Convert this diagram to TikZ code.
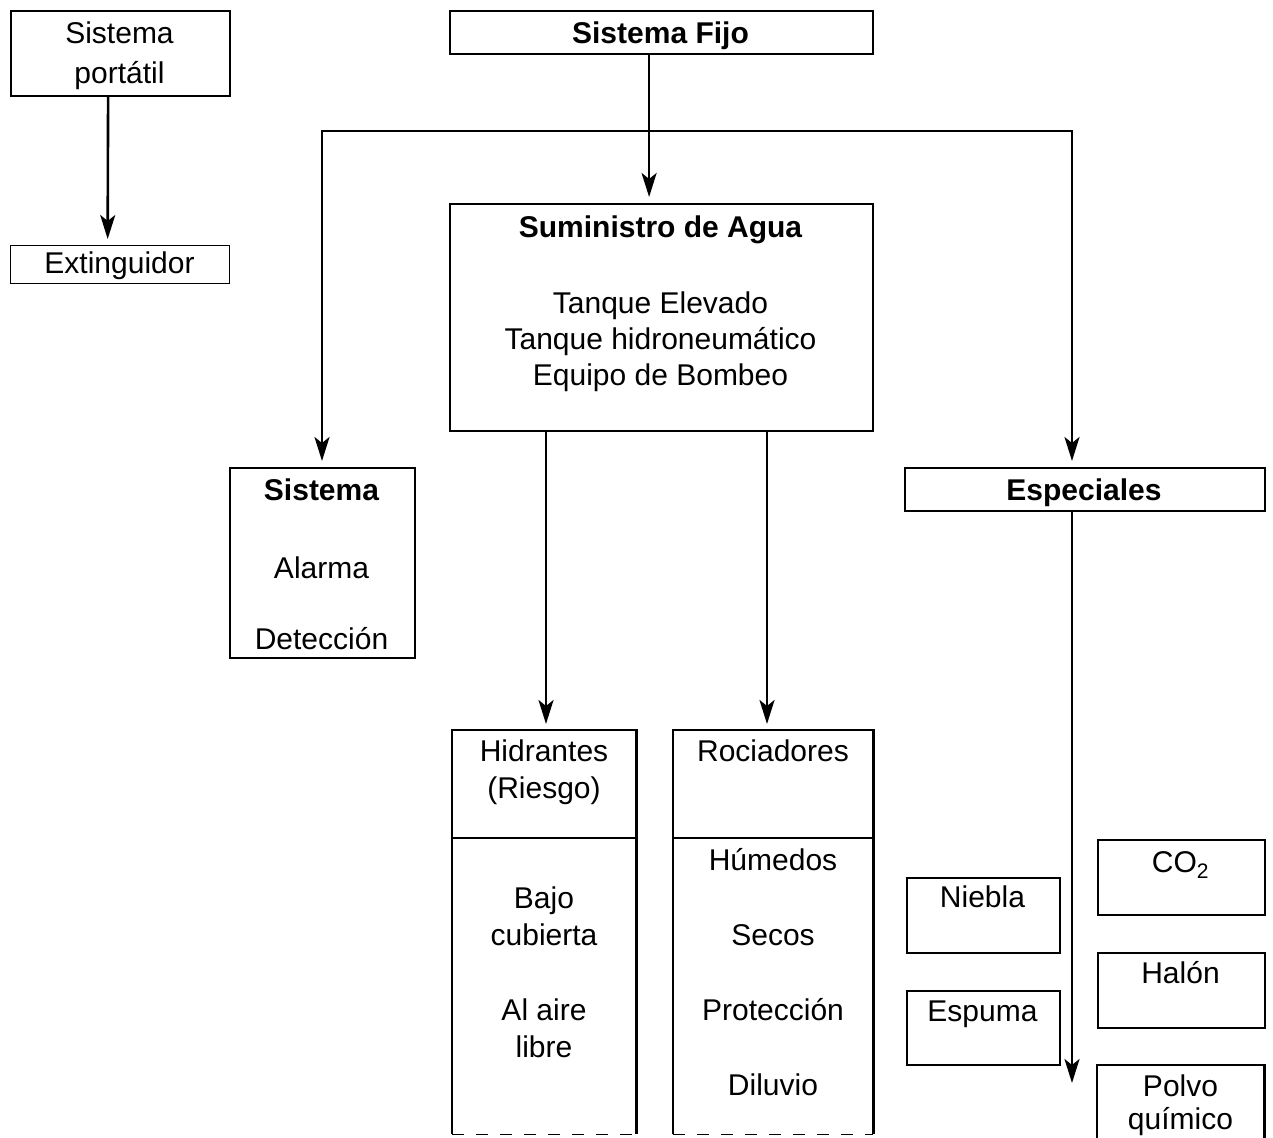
\documentclass[tikz,border=0pt]{standalone}
\usepackage{fontspec}
\setmainfont{Liberation Sans}
\usetikzlibrary{arrows.meta,calc}
\begin{document}
\begin{tikzpicture}[x=1pt,y=-1pt,
  bx/.style={draw, line width=2.2pt, inner sep=0, anchor=north west},
  thinbx/.style={draw, line width=1.3pt, inner sep=0, anchor=north west},
  openbx/.style={inner sep=0, anchor=north west},
  txt/.style={anchor=base, inner sep=0, font=\fontsize{30}{36}\selectfont},
  btxt/.style={anchor=base, inner sep=0, font=\fontsize{30}{36}\selectfont\bfseries},
  arr/.style={line width=2.6pt, -{Stealth[length=24pt,width=15pt,inset=6pt]}, shorten >=6pt},
  ln/.style={line width=2.6pt},
  side/.style={line width=2.2pt},
  divl/.style={line width=1.4pt},
  cut/.style={line width=1.8pt, dash pattern=on 12pt off 12pt}]
\useasboundingbox (0,0) rectangle (1273,1137);

% boxes
\node[bx, minimum width=219pt, minimum height=85pt] (port) at (10,10) {};
\node[thinbx, minimum width=219pt, minimum height=38pt] (ext) at (10,245) {};
\node[bx, minimum width=423pt, minimum height=43pt] (fijo) at (449,10) {};
\node[bx, minimum width=423pt, minimum height=227pt] (sum) at (449,203) {};
\node[bx, minimum width=185pt, minimum height=190pt] (sis) at (229,467) {};
\node[bx, minimum width=360pt, minimum height=43pt] (esp) at (904,467) {};
\node[openbx, minimum width=184pt, minimum height=404pt] (hid) at (452,730) {};
\node[openbx, minimum width=200pt, minimum height=404pt] (roc) at (673,730) {};
\node[bx, minimum width=153pt, minimum height=75pt] (nie) at (906,877) {};
\node[bx, minimum width=153pt, minimum height=74pt] (esq) at (906,990) {};
\node[bx, minimum width=167pt, minimum height=75pt] (co2) at (1097,839) {};
\node[bx, minimum width=167pt, minimum height=75pt] (hal) at (1097,952) {};
\node[openbx, minimum width=167pt, minimum height=80pt] (pol) at (1097,1065) {};

% open boxes
\draw[side] (hid.south west) -- (hid.north west) -- (hid.north east) -- (hid.south east);
\draw[cut] (hid.south west) -- (hid.south east);
\draw[side] (roc.south west) -- (roc.north west) -- (roc.north east) -- (roc.south east);
\draw[cut] (roc.south west) -- (roc.south east);
\draw[side] (pol.south west) -- (pol.north west) -- (pol.north east) -- (pol.south east);
\coordinate (dv) at (0,838);
\draw[divl] (hid.west |- dv) -- (hid.east |- dv);
\draw[divl] (roc.west |- dv) -- (roc.east |- dv);

% texts
\node[txt] (t1) at (119.5,44) {Sistema};
\node[txt] (t2) at (119.5,84) {portátil};
\node[txt] (t3) at (119.5,273) {Extinguidor};
\node[btxt] (t4) at (660.5,44) {Sistema Fijo};
\node[btxt] (t5) at (660.5,237) {Suministro de Agua};
\node[txt] (t6) at (660.5,313) {Tanque Elevado};
\node[txt] (t7) at (660.5,349) {Tanque hidroneumático};
\node[txt] (t8) at (660.5,385) {Equipo de Bombeo};
\node[btxt] (t9) at (321.5,500) {Sistema};
\node[txt] (t10) at (321.5,578) {Alarma};
\node[txt] (t11) at (321.5,649) {Detección};
\node[btxt] (t12) at (1084,500) {Especiales};
\node[txt] (t13) at (544,761) {Hidrantes};
\node[txt] (t14) at (544,798) {(Riesgo)};
\node[txt] (t15) at (544,908) {Bajo};
\node[txt] (t16) at (544,945) {cubierta};
\node[txt] (t17) at (544,1020) {Al aire};
\node[txt] (t18) at (544,1057) {libre};
\node[txt] (t19) at (773,761) {Rociadores};
\node[txt] (t20) at (773,870) {Húmedos};
\node[txt] (t21) at (773,945) {Secos};
\node[txt] (t22) at (773,1020) {Protección};
\node[txt] (t23) at (773,1095) {Diluvio};
\node[txt] (t24) at (982.5,907) {Niebla};
\node[txt] (t25) at (982.5,1021) {Espuma};
\node[txt] (t26) at (1180.5,872) {CO\textsubscript{2}};
\node[txt] (t27) at (1180.5,983) {Halón};
\node[txt] (t28) at (1180.5,1096) {Polvo};
\node[txt] (t29) at (1180.5,1129) {químico};

% connectors
\draw[arr] ([xshift=-12.5pt]port.south) -- ([xshift=-12.5pt]ext.north);
\draw[arr] ([xshift=-12.5pt]fijo.south) -- ([xshift=-12.5pt]sum.north);
\coordinate (jl) at (322,131);
\coordinate (jr) at (1072,131);
\draw[ln, line cap=rect] (jl) -- (jr);
\draw[arr] (jl) -- (jl |- sis.north);
\draw[arr] (jr) -- (jr |- esp.north);
\coordinate (ha) at (546,0);
\coordinate (ra) at (767,0);
\draw[arr] (ha |- sum.south) -- (ha |- hid.north);
\draw[arr] (ra |- sum.south) -- (ra |- roc.north);
\coordinate (espend) at (1072,1089);
\draw[arr] (espend |- esp.south) -- (espend);
\end{tikzpicture}
\end{document}
